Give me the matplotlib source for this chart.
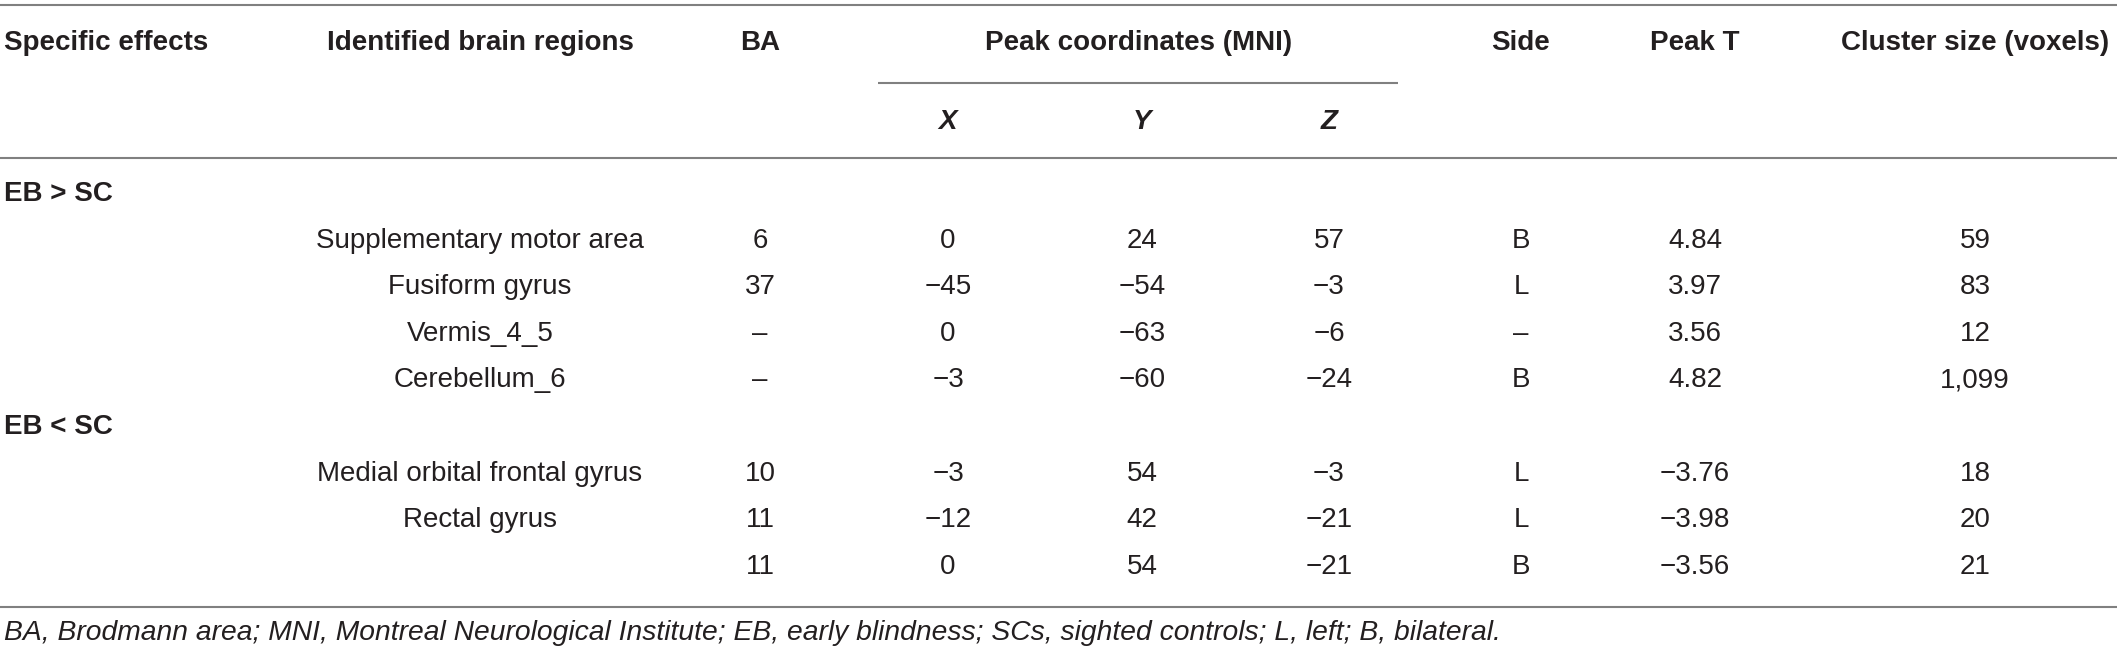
import matplotlib
matplotlib.use("Agg")
import matplotlib.pyplot as plt

# ---- data ----
columns = ["Specific effects", "Identified brain regions", "BA",
           "Peak coordinates (MNI)", "Side", "Peak T", "Cluster size (voxels)"]
coord_labels = ["X", "Y", "Z"]
groups = ["EB > SC", "EB < SC"]
regions = [
    ["Supplementary motor area", "Fusiform gyrus", "Vermis_4_5", "Cerebellum_6"],
    ["Medial orbital frontal gyrus", "Rectal gyrus", ""],
]
ba = [["6", "37", "–", "–"], ["10", "11", "11"]]
x_mni = [["0", "−45", "0", "−3"], ["−3", "−12", "0"]]
y_mni = [["24", "−54", "−63", "−60"], ["54", "42", "54"]]
z_mni = [["57", "−3", "−6", "−24"], ["−3", "−21", "−21"]]
side = [["B", "L", "–", "B"], ["L", "L", "B"]]
peak_t = [["4.84", "3.97", "3.56", "4.82"], ["−3.76", "−3.98", "−3.56"]]
cluster = [["59", "83", "12", "1,099"], ["18", "20", "21"]]
footnote = ("BA, Brodmann area; MNI, Montreal Neurological Institute; "
            "EB, early blindness; SCs, sighted controls; L, left; B, bilateral.")

# ---- layout ----
W, H = 2117, 657
fig = plt.figure(figsize=(W / 100, H / 100), dpi=100)
ax = fig.add_axes([0, 0, 1, 1])
ax.set_xlim(0, W)
ax.set_ylim(H, 0)
ax.axis("off")

FONT = ["Liberation Sans", "DejaVu Sans"]
TXT = "#231f20"
LINE = "#808080"
FS = 20

col_x = {"effects": 4, "region": 480, "ba": 760, "x": 948, "y": 1142,
         "z": 1329, "side": 1521, "t": 1695, "cluster": 1975}

def t(x, y, s, ha="center", weight="normal", style="normal", size=FS):
    ax.text(x, y, s, ha=ha, va="center", fontsize=size, fontweight=weight,
            fontstyle=style, color=TXT, family=FONT)

# rules
for yy in (5, 158, 607):
    ax.plot([0, W], [yy, yy], color=LINE, lw=1.5, solid_capstyle="butt")
ax.plot([878, 1398], [83, 83], color=LINE, lw=1.5, solid_capstyle="butt")

# header
hy = 43
t(col_x["effects"], hy, columns[0], ha="left", weight="bold")
t(col_x["region"], hy, columns[1], weight="bold")
t(col_x["ba"], hy, columns[2], weight="bold")
t((col_x["x"] + col_x["z"]) / 2, hy, columns[3], weight="bold")
t(col_x["side"], hy, columns[4], weight="bold")
t(col_x["t"], hy, columns[5], weight="bold")
t(col_x["cluster"], hy, columns[6], weight="bold")
for key, lab in zip(["x", "y", "z"], coord_labels):
    t(col_x[key], 122, lab, weight="bold", style="italic")

# body
y0, dy = 194, 46.6
row = 0
for g, gname in enumerate(groups):
    t(col_x["effects"], y0 + row * dy, gname, ha="left", weight="bold")
    row += 1
    for i in range(len(regions[g])):
        yy = y0 + row * dy
        t(col_x["region"], yy, regions[g][i])
        t(col_x["ba"], yy, ba[g][i])
        t(col_x["x"], yy, x_mni[g][i])
        t(col_x["y"], yy, y_mni[g][i])
        t(col_x["z"], yy, z_mni[g][i])
        t(col_x["side"], yy, side[g][i])
        t(col_x["t"], yy, peak_t[g][i])
        t(col_x["cluster"], yy, cluster[g][i])
        row += 1

t(4, 633, footnote, ha="left", style="italic", size=20.3)

fig.savefig("out.png", dpi=100)
